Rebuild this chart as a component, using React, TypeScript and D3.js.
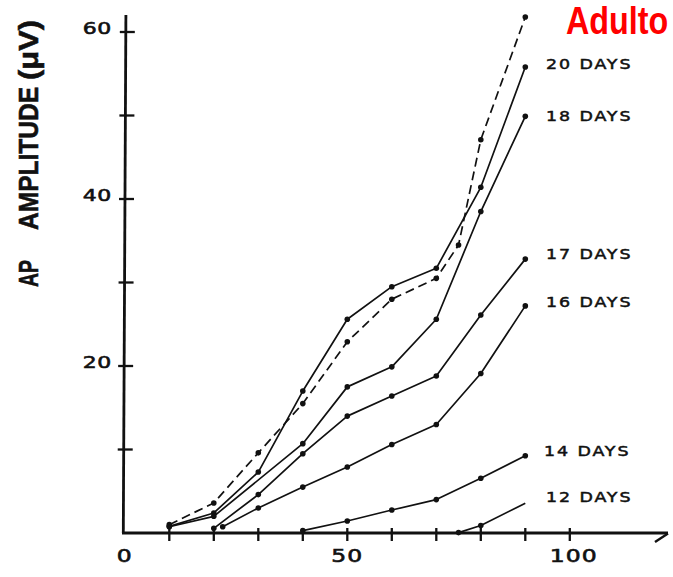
import React from 'react';
import * as d3 from 'd3';

// ---- data ----
const adultX = [10, 20, 30, 40, 50, 60, 70, 75, 80, 90];
const adultY = [1.0, 3.6, 9.6, 15.5, 22.9, 28.0, 30.5, 34.5, 47.1, 61.8];
const d20X = [10, 20, 30, 40, 50, 60, 70, 80, 90];
const d20Y = [0.8, 2.4, 7.3, 17.0, 25.6, 29.5, 31.7, 41.4, 55.8];
const d18X = [10, 20, 40, 50, 60, 70, 80, 90];
const d18Y = [0.75, 2.0, 10.7, 17.5, 19.9, 25.6, 38.5, 49.9];
const d17X = [20, 30, 40, 50, 60, 70, 80, 90];
const d17Y = [0.56, 4.6, 9.5, 14.0, 16.4, 18.8, 26.1, 32.8];
const d16X = [22, 30, 40, 50, 60, 70, 80, 90];
const d16Y = [0.75, 3.0, 5.5, 7.9, 10.6, 13.0, 19.1, 27.2];
const d14X = [40, 50, 60, 70, 80, 90];
const d14Y = [0.28, 1.44, 2.75, 4.0, 6.55, 9.26];
const d12X = [75, 80, 90];
const d12Y = [0.05, 0.9, 3.56];

const seriesNames = ['Adulto', '20 DAYS', '18 DAYS', '17 DAYS', '16 DAYS', '14 DAYS', '12 DAYS'];
const yTickValues = [10, 20, 30, 40, 50, 60];
const yTickLabels = [20, 40, 60];
const xTickValues = [10, 20, 30, 40, 50, 60, 70, 80, 90, 100];
const xTickLabels = [0, 50, 100];
const axisTitleParts = ['AP', 'AMPLITUDE', '(μV)'];

const zip = (xs: number[], ys: number[]) => xs.map((v, i) => [v, ys[i]] as [number, number]);

export default function App() {
  const W = 673, H = 577;
  const x = d3.scaleLinear().domain([0, 100]).range([124.8, 569.8]);
  const y = d3.scaleLinear().domain([0, 60]).range([533, 32]);
  const line = d3.line<[number, number]>().x(d => x(d[0])).y(d => y(d[1]));

  const series = [
    { name: seriesNames[0], pts: zip(adultX, adultY), dash: '9,5', label: null as null | { x: number; y: number }, skipLast: false },
    { name: seriesNames[1], pts: zip(d20X, d20Y), dash: null, label: { x: 546, y: 69 }, skipLast: false },
    { name: seriesNames[2], pts: zip(d18X, d18Y), dash: null, label: { x: 546, y: 120.5 }, skipLast: false },
    { name: seriesNames[3], pts: zip(d17X, d17Y), dash: null, label: { x: 546, y: 259 }, skipLast: false },
    { name: seriesNames[4], pts: zip(d16X, d16Y), dash: null, label: { x: 546, y: 306.5 }, skipLast: false },
    { name: seriesNames[5], pts: zip(d14X, d14Y), dash: null, label: { x: 544, y: 456 }, skipLast: false },
    { name: seriesNames[6], pts: zip(d12X, d12Y), dash: null, label: { x: 546, y: 502 }, skipLast: true },
  ];

  // slightly tilted vertical axis like the scan
  const axisTop = 15;
  const axisXAt = (py: number) => 123.3 + ((533 - py) / (533 - axisTop)) * 2.6;
  const ink = '#111';
  const numFont = '"DejaVu Sans", sans-serif';

  const titleCenters = [273.5, 158.5, 50];
  const titleLens = [27, 143, 60];

  return (
    <svg width={W} height={H} style={{ position: 'absolute', left: 0, top: 0, background: '#fff' }}>
      <rect x={0} y={0} width={W} height={H} fill="#fff" />
      {/* Y axis */}
      <line x1={axisXAt(533)} y1={533} x2={axisXAt(axisTop)} y2={axisTop} stroke={ink} strokeWidth={2.8} />
      {yTickValues.map(v => {
        const py = y(v);
        const ax = axisXAt(py);
        return <line key={'yt' + v} x1={ax - 6} x2={ax + 9} y1={py} y2={py} stroke={ink} strokeWidth={2.3} />;
      })}
      {yTickLabels.map(v => (
        <text key={'yl' + v} transform={`translate(112,${y(v) + 1.5}) scale(1.33,1)`} textAnchor="end"
          fontFamily={numFont} fontSize={16.5} fill={ink} stroke={ink} strokeWidth={0.6} letterSpacing={0.5}>{v}</text>
      ))}
      {/* X axis */}
      <line x1={axisXAt(533) - 1.3} y1={533} x2={668} y2={533} stroke={ink} strokeWidth={2.8} />
      <line x1={668} y1={533.5} x2={655} y2={542} stroke={ink} strokeWidth={2.4} />
      {xTickValues.map(v => (
        <line key={'xt' + v} x1={x(v)} x2={x(v)} y1={528} y2={541} stroke={ink} strokeWidth={2.3} />
      ))}
      {xTickLabels.map(v => (
        <text key={'xl' + v} transform={`translate(${x(v) + (v === 100 ? 4 : 0)},562) scale(1.38,1)`} textAnchor="middle"
          fontFamily={numFont} fontSize={17} fill={ink} stroke={ink} strokeWidth={0.6} letterSpacing={0.8}>{v}</text>
      ))}
      {/* Y axis title */}
      {axisTitleParts.map((t, i) => (
        <text key={'tt' + i} transform={`translate(37.5,${titleCenters[i]}) scale(1.18,1) rotate(-90)`} textAnchor="middle"
          fontFamily='"Liberation Sans", Arial, sans-serif' fontWeight="bold" fontSize={24} fill={ink}
          stroke={ink} strokeWidth={0.5}
          textLength={titleLens[i]} lengthAdjust="spacingAndGlyphs">{t}</text>
      ))}
      {/* series */}
      {series.map(s => (
        <g key={s.name}>
          <path d={line(s.pts) || ''} fill="none" stroke={ink} strokeWidth={1.7}
            strokeDasharray={s.dash || undefined} strokeLinejoin="round" />
          {s.pts.map((p, i) => (s.skipLast && i === s.pts.length - 1) ? null : (
            <circle key={i} cx={x(p[0])} cy={y(p[1])} r={2.8} fill={ink} />
          ))}
          {s.label && (
            <text transform={`translate(${s.label.x},${s.label.y}) scale(1.2,1)`} fontFamily={numFont}
              fontSize={14.5} fill={ink} stroke={ink} strokeWidth={0.5} letterSpacing={1.6}>{s.name}</text>
          )}
        </g>
      ))}
      {/* red label */}
      <text transform="translate(566,34) scale(0.85,1)" fontFamily='"Liberation Sans", Arial, sans-serif'
        fontWeight="bold" fontSize={38} fill="#ff0000">{seriesNames[0]}</text>
    </svg>
  );
}
